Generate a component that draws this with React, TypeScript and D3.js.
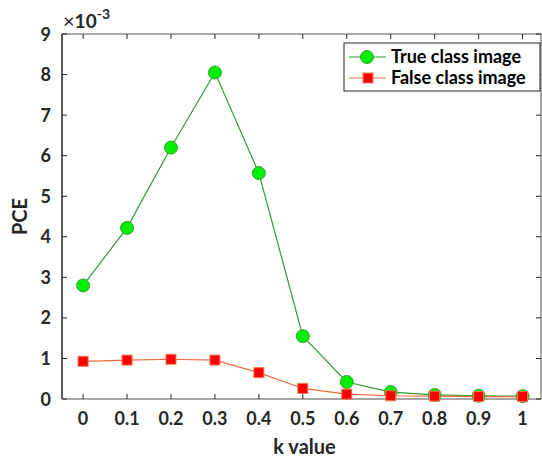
import * as d3 from "d3";

const kValues = [0, 0.1, 0.2, 0.3, 0.4, 0.5, 0.6, 0.7, 0.8, 0.9, 1];
const trueClass = [2.8, 4.22, 6.2, 8.05, 5.57, 1.55, 0.42, 0.17, 0.1, 0.08, 0.07];
const falseClass = [0.93, 0.96, 0.98, 0.96, 0.65, 0.26, 0.12, 0.08, 0.07, 0.06, 0.06];
const yTicks = [0, 1, 2, 3, 4, 5, 6, 7, 8, 9];
const xTickLabels = ["0", "0.1", "0.2", "0.3", "0.4", "0.5", "0.6", "0.7", "0.8", "0.9", "1"];

const W = 542;
const H = 459;
const margin = { top: 34, right: 1, bottom: 60, left: 62 };
const font = "Lato, 'Open Sans', sans-serif";

export default function App() {
  const x = d3.scaleLinear().domain([-0.048, 1.042]).range([margin.left, W - margin.right]);
  const y = d3.scaleLinear().domain([0, 9]).range([H - margin.bottom, margin.top]);
  const line = d3
    .line<number>()
    .x((_, i) => x(kValues[i]))
    .y((d) => y(d));

  const x0 = margin.left;
  const x1 = W - margin.right;
  const y0 = H - margin.bottom;
  const y1 = margin.top;

  return (
    <svg
      width={W}
      height={H}
      style={{ position: "absolute", left: 0, top: 0, background: "#fff" }}
      fontFamily={font}
    >
      {/* frame */}
      <line x1={x0} x2={x1} y1={y1} y2={y1} stroke="#8c8c8c" strokeWidth={1.5} />
      <line x1={x1} x2={x1} y1={y1} y2={y0} stroke="#8c8c8c" strokeWidth={1.5} />
      <line x1={x0} x2={x0} y1={y1} y2={y0} stroke="#262626" strokeWidth={1.5} />
      <line x1={x0} x2={x1} y1={y0} y2={y0} stroke="#a6a6a6" strokeWidth={2} />

      {/* x ticks */}
      {kValues.map((k, i) => (
        <g key={"xt" + i}>
          <line x1={x(k)} x2={x(k)} y1={y0} y2={y0 - 5} stroke="#262626" />
          <line x1={x(k)} x2={x(k)} y1={y1} y2={y1 + 5} stroke="#262626" />
          <text
            x={x(k)}
            y={y0 + 26}
            textAnchor="middle"
            fontSize={18}
            fontWeight="bold"
            fill="#262626"
          >
            {xTickLabels[i]}
          </text>
        </g>
      ))}

      {/* y ticks */}
      {yTicks.map((t) => (
        <g key={"yt" + t}>
          <line x1={x0} x2={x0 + 5} y1={y(t)} y2={y(t)} stroke="#262626" />
          <line x1={x1} x2={x1 - 5} y1={y(t)} y2={y(t)} stroke="#262626" />
          <text
            x={x0 - 11}
            y={y(t) + 6.5}
            textAnchor="end"
            fontSize={18}
            fontWeight="bold"
            fill="#262626"
          >
            {t}
          </text>
        </g>
      ))}

      {/* exponent */}
      <text x={x0 + 1} y={y1 - 6} fontSize={18} fill="#262626">
        <tspan fontSize={20}>×</tspan>
        <tspan fontWeight="bold" fontSize={19}>10</tspan>
        <tspan fontWeight="bold" fontSize={14} dy={-9}>-3</tspan>
      </text>

      {/* axis labels */}
      <text
        x={x0 + (x1 - x0) / 2 + 3}
        y={H - 5}
        textAnchor="middle"
        fontSize={20}
        fontWeight="bold"
        fill="#262626"
      >
        k value
      </text>
      <text
        transform={`translate(27,${(y0 + y1) / 2}) rotate(-90)`}
        textAnchor="middle"
        fontSize={20}
        fontWeight="bold"
        fill="#262626"
      >
        PCE
      </text>

      {/* series */}
      <path d={line(trueClass) || ""} fill="none" stroke="#2f9e2f" strokeWidth={1.2} />
      <path d={line(falseClass) || ""} fill="none" stroke="#f06a3a" strokeWidth={1.2} />
      {trueClass.map((v, i) => (
        <circle
          key={"c" + i}
          cx={x(kValues[i])}
          cy={y(v)}
          r={6.5}
          fill="#00ee00"
          stroke="#3c9e3c"
          strokeWidth={1}
        />
      ))}
      {falseClass.map((v, i) => (
        <rect
          key={"s" + i}
          x={x(kValues[i]) - 5}
          y={y(v) - 5}
          width={10}
          height={10}
          fill="#ff0000"
          stroke="#f07a50"
          strokeWidth={1}
        />
      ))}

      {/* legend */}
      <rect x={344} y={43} width={196} height={48} fill="#fff" stroke="#262626" strokeWidth={1} />
      <line x1={349} x2={386} y1={57} y2={57} stroke="#2f9e2f" strokeWidth={1.2} />
      <circle cx={367} cy={57} r={6.5} fill="#00ee00" stroke="#3c9e3c" />
      <text x={391} y={63} fontSize={18} fontWeight="bold" fill="#000">
        True class image
      </text>
      <line x1={349} x2={386} y1={78} y2={78} stroke="#f5a080" strokeWidth={1.5} />
      <rect x={363} y={73} width={10} height={10} fill="#ff0000" stroke="#f07a50" />
      <text x={391} y={84} fontSize={18} fontWeight="bold" fill="#000">
        False class image
      </text>
    </svg>
  );
}
